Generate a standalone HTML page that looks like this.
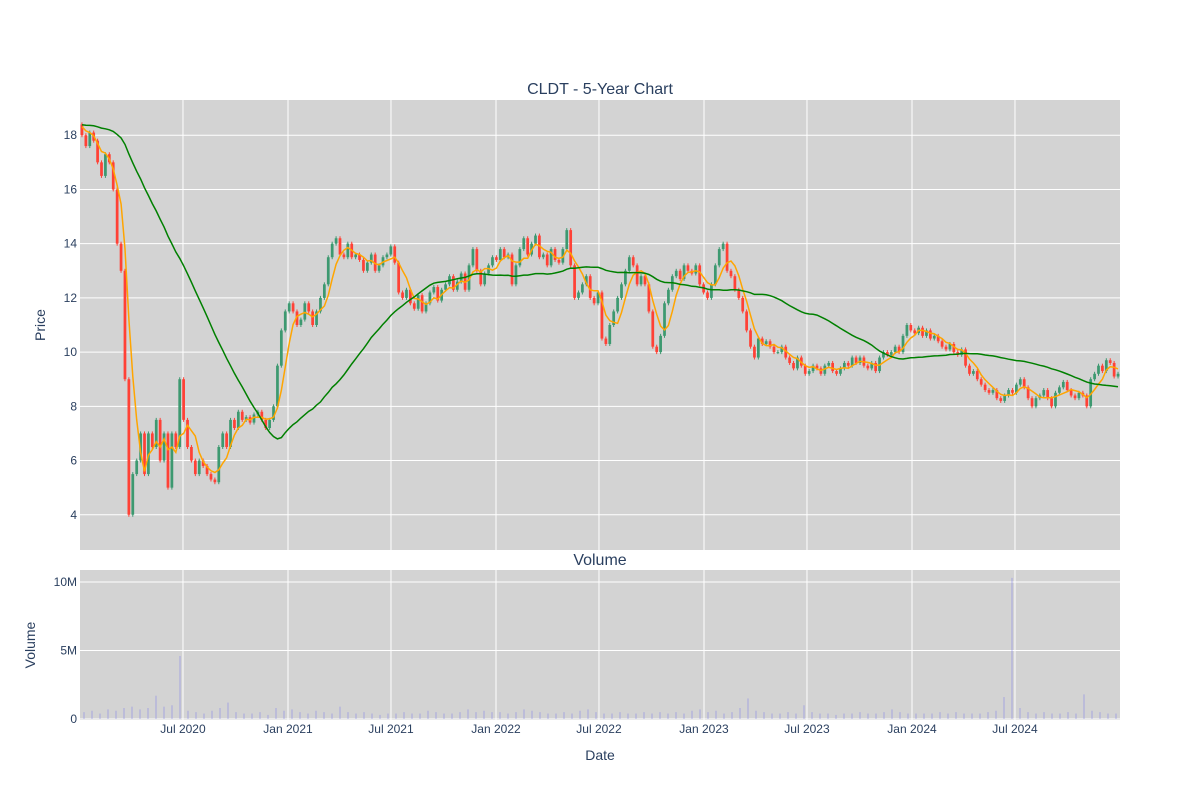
<!DOCTYPE html>
<html><head><meta charset="utf-8"><title>CLDT - 5-Year Chart</title>
<style>
html,body{margin:0;padding:0;background:#fff;}
svg{display:block;font-family:"Liberation Sans",sans-serif;}
</style></head>
<body>
<svg id="chart" width="1200" height="800" viewBox="0 0 1200 800" xmlns="http://www.w3.org/2000/svg">
  <rect x="80" y="100" width="1040" height="450" fill="#d3d3d3"/>
  <rect x="80" y="570" width="1040" height="150" fill="#d3d3d3"/>
  <g id="grid"></g>
  <g id="vol"></g>
  <g id="candles"></g>
  <g id="lines"></g>
  <g id="axes"></g>
  <text x="600" y="94" text-anchor="middle" font-size="16" fill="#2a3f5f">CLDT - 5-Year Chart</text>
  <text x="600" y="565" text-anchor="middle" font-size="16" fill="#2a3f5f">Volume</text>
  <text x="45" y="325" text-anchor="middle" font-size="14" fill="#2a3f5f" transform="rotate(-90 45 325)">Price</text>
  <text x="35" y="645" text-anchor="middle" font-size="14" fill="#2a3f5f" transform="rotate(-90 35 645)">Volume</text>
  <text x="600" y="760" text-anchor="middle" font-size="14" fill="#2a3f5f">Date</text>
</svg>
<script>
const closes = [
18.0,17.6,18.1,17.8,
17.0,16.5,17.3,17.0,
16.0,14.0,13.0,
9.0,4.0,5.5,
6.0,7.0,5.5,7.0,6.5,
7.5,6.0,7.0,5.0,7.0,6.5,
9.0,7.5,6.5,6.0,5.5,
6.0,5.8,5.5,5.3,5.2,
6.5,7.0,6.5,7.5,7.2,
7.8,7.5,7.6,7.4,7.7,
7.8,7.5,7.2,7.5,8.0,
9.5,10.8,11.5,11.8,
11.5,11.0,11.2,11.8,
11.5,11.0,11.5,12.0,12.5,
13.5,14.0,14.2,13.6,13.5,
14.0,13.5,13.6,13.4,13.0,
13.3,13.6,13.0,13.2,13.5,
13.6,13.9,13.3,12.2,12.0,
12.3,11.8,11.6,12.1,11.5,
11.8,12.2,12.4,11.9,12.3,
12.5,12.8,12.3,12.6,12.9,
12.3,13.2,13.8,13.0,12.5,
12.9,13.2,13.5,13.4,13.8,
13.5,13.6,12.5,13.2,13.8,
14.2,13.6,14.0,14.3,13.5,
13.6,13.2,13.8,13.4,13.3,
13.8,14.5,13.2,12.0,12.2,
12.5,12.8,12.0,11.8,12.2,
10.5,10.3,11.0,11.5,12.0,
12.5,13.0,13.5,13.2,12.5,
12.8,12.5,11.5,10.2,10.0,
10.6,11.8,12.3,12.8,13.0,
12.7,13.2,13.0,12.9,13.2,
12.5,12.2,12.0,12.5,13.2,
13.8,14.0,13.0,12.8,12.3,
12.0,11.5,10.8,10.2,9.8,
10.5,10.3,10.4,10.2,10.0,
10.0,10.2,9.8,9.6,9.4,
9.8,9.5,9.2,9.3,9.5,
9.4,9.2,9.5,9.6,9.3,
9.2,9.4,9.6,9.5,9.8,
9.6,9.8,9.5,9.4,9.6,
9.3,9.8,10.0,9.9,10.0,
10.2,10.0,10.6,11.0,10.8,
10.7,10.9,10.6,10.8,10.5,
10.6,10.4,10.2,10.1,10.3,
10.0,9.9,10.1,9.5,9.2,
9.3,9.0,8.8,8.6,8.5,
8.6,8.3,8.2,8.4,8.6,
8.5,8.8,9.0,8.7,8.3,
8.0,8.3,8.4,8.6,8.3,
8.0,8.5,8.7,8.9,8.6,
8.4,8.3,8.5,8.4,8.0,
9.0,9.2,9.5,9.3,9.7,
9.6,9.1,9.2
];
const priorLevel = 18.4;
const volumesM = [
0.5,0.6,0.4,0.7,0.6,0.8,0.9,0.7,0.8,1.7,0.9,1.0,4.6,0.6,0.5,0.4,0.6,0.8,1.2,0.5,
0.4,0.4,0.5,0.3,0.8,0.6,0.7,0.5,0.4,0.6,0.5,0.4,0.9,0.5,0.4,0.5,0.4,0.3,0.4,0.4,
0.5,0.4,0.4,0.6,0.5,0.4,0.4,0.5,0.7,0.5,0.6,0.5,0.5,0.4,0.5,0.7,0.6,0.5,0.4,0.4,
0.5,0.4,0.6,0.7,0.5,0.4,0.4,0.5,0.4,0.4,0.5,0.4,0.5,0.4,0.5,0.4,0.6,0.7,0.5,0.6,
0.4,0.5,0.8,1.5,0.6,0.5,0.4,0.4,0.5,0.4,1.0,0.5,0.4,0.4,0.3,0.4,0.4,0.5,0.4,0.4,
0.5,0.7,0.5,0.4,0.4,0.4,0.4,0.5,0.4,0.5,0.4,0.4,0.4,0.5,0.6,1.6,10.3,0.8,0.5,0.4,
0.5,0.4,0.4,0.5,0.4,1.8,0.6,0.5,0.4,0.4
];
const priceTicks = [4,6,8,10,12,14,16,18];
const volTicks = [0,5,10];
const volTickLabels = ["0","5M","10M"];
const dateTickLabels = ["Jul 2020","Jan 2021","Jul 2021","Jan 2022","Jul 2022","Jan 2023","Jul 2023","Jan 2024","Jul 2024"];
const dateTickFrac = [0.099,0.200,0.299,0.400,0.499,0.600,0.699,0.800,0.899];

const NS="http://www.w3.org/2000/svg";
const X0=80,X1=1120,PY0=100,PY1=550,VY0=570,VY1=720;
const pMin=2.7,pMax=19.3;
function py(p){return PY1-(p-pMin)/(pMax-pMin)*(PY1-PY0);}
function vy(v){return 719-(v/10)*137;}
function xi(i,n){return X0+(i+0.5)*(X1-X0)/n;}
function mk(tag,attrs,parent){const e=document.createElementNS(NS,tag);for(const k in attrs)e.setAttribute(k,attrs[k]);parent.appendChild(e);return e;}
const grid=document.getElementById('grid'),axes=document.getElementById('axes');

priceTicks.forEach(t=>{
  const l=mk('line',{x1:X0,x2:X1,y1:py(t),y2:py(t),stroke:'#fff','stroke-width':1},grid);
  
  
  const tx=mk('text',{x:X0-3,y:py(t)+4,'text-anchor':'end','font-size':12,fill:'#2a3f5f'},axes);
  
  
  tx.textContent=t;
});
volTicks.forEach((t,i)=>{
  const l=mk('line',{x1:X0,x2:X1,y1:vy(t),y2:vy(t),stroke:'#fff','stroke-width':1},grid);
  
  
  const tx=mk('text',{x:X0-3,y:vy(t)+4,'text-anchor':'end','font-size':12,fill:'#2a3f5f'},axes);
  
  
  tx.textContent=volTickLabels[i];
});
dateTickFrac.forEach((f,i)=>{
  const x=X0+f*(X1-X0);
  const l=mk('line',{x1:x,x2:x,y1:PY0,y2:PY1,stroke:'#fff','stroke-width':1},grid);
  
  
  const l2=mk('line',{x1:x,x2:x,y1:VY0,y2:VY1,stroke:'#fff','stroke-width':1},grid);
  
  
  const tx=mk('text',{x:x,y:733,'text-anchor':'middle','font-size':12,fill:'#2a3f5f'},axes);
  
  
  tx.textContent=dateTickLabels[i];
});

const vol=document.getElementById('vol');
volumesM.forEach((v,i)=>{
  const x=xi(i,volumesM.length);
  const r=mk('rect',{x:x-0.75,y:vy(v),width:1.5,height:Math.max(0.5,719-vy(v)),fill:'rgba(110,110,240,0.3)'},vol);
  
  
});

const cg=document.getElementById('candles');
const n=closes.length,w=(X1-X0)/n;
closes.forEach((c,i)=>{
  const o=i===0?priorLevel:closes[i-1];
  const up=c>=o,col=up?'#3d9970':'#ff4136';
  const x=xi(i,n),hi=Math.max(o,c),lo=Math.min(o,c);
  const wk=mk('line',{x1:x,x2:x,y1:py(hi)-2,y2:py(lo)+2,stroke:col,'stroke-width':1},cg);
  
  
  const b=mk('rect',{x:x-w*0.35,y:py(hi),width:w*0.7,height:Math.max(1,py(lo)-py(hi)),fill:col},cg);
  
  
});

function ma(arr,k){return arr.map((_,i)=>{let s=0;for(let j=i-k+1;j<=i;j++){s+=j<0?priorLevel:arr[j];}return s/k;});}
const lg=document.getElementById('lines');
[[ma(closes,5),'orange','ma-short-line'],[ma(closes,40),'green','ma-200-line']].forEach(([d,col,name])=>{
  const pts=d.map((v,i)=>xi(i,n).toFixed(1)+','+py(v).toFixed(1)).join(' ');
  const pl=mk('polyline',{points:pts,fill:'none',stroke:col,'stroke-width':1.5},lg);
  
  
});
</script>
</body></html>
